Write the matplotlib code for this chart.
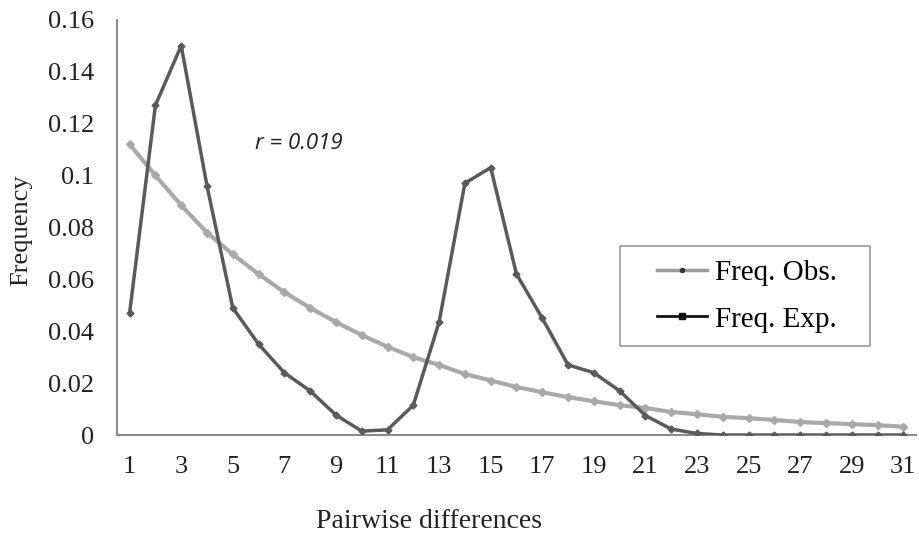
import matplotlib
matplotlib.use("Agg")
import matplotlib.pyplot as plt
from matplotlib.lines import Line2D
from matplotlib.patches import Rectangle

x_vals = list(range(1, 32))
x_tick_labels = [str(i) for i in range(1, 32, 2)]
y_ticks = [0, 0.02, 0.04, 0.06, 0.08, 0.1, 0.12, 0.14, 0.16]
y_tick_labels = ["0", "0.02", "0.04", "0.06", "0.08", "0.1", "0.12", "0.14", "0.16"]

# light grey curve (legend: Freq. Obs.)
freq_grey = [0.112, 0.100, 0.0885, 0.078, 0.0696, 0.062, 0.055, 0.049, 0.0435, 0.0385,
             0.034, 0.030, 0.027, 0.0235, 0.021, 0.0185, 0.0165, 0.0146, 0.013, 0.0115,
             0.0104, 0.0089, 0.008, 0.007, 0.0065, 0.0058, 0.005, 0.0046, 0.0042, 0.0038,
             0.0032]
# dark curve (legend: Freq. Exp.)
freq_dark = [0.047, 0.127, 0.150, 0.096, 0.049, 0.035, 0.024, 0.017, 0.0077, 0.0015,
             0.002, 0.0115, 0.0435, 0.097, 0.103, 0.062, 0.045, 0.027, 0.024, 0.017,
             0.0075, 0.0023, 0.0006, 0, 0, 0, 0, 0, 0, 0, 0]

serif = ["Liberation Serif", "DejaVu Serif"]
W, H = 919, 538

fig = plt.figure(figsize=(9.19, 5.38), dpi=100)
ax = fig.add_axes([0.127, 0.1914, 0.870, 0.772])

grey = "#a9a9a9"
dark = "#5a5a5a"
ax.plot(x_vals, freq_grey, color=grey, lw=3, marker="D", ms=4.5, mfc=grey, mec=grey, zorder=2)
ax.plot(x_vals, freq_dark, color=dark, lw=2.5, marker="D", ms=3.5, mfc=dark, mec=dark, zorder=3)

ax.set_xlim(0.5, 31.5)
ax.set_ylim(0, 0.16)
ax.set_xticks(list(range(1, 32, 2)))
ax.set_xticklabels(x_tick_labels, family=serif, fontsize=19, color="#222222")
ax.set_yticks(y_ticks)
ax.set_yticklabels(y_tick_labels, family=serif, fontsize=19, color="#222222")
ax.tick_params(axis="both", length=0)
ax.tick_params(axis="x", pad=15)
ax.tick_params(axis="y", pad=16)

for s in ["top", "right"]:
    ax.spines[s].set_visible(False)
for s in ["left", "bottom"]:
    ax.spines[s].set_color("#8a8a8a")
    ax.spines[s].set_linewidth(1.5)

ax.set_xlabel("Pairwise differences", family=serif, fontsize=20, color="#222222")
ax.xaxis.set_label_coords(0.39, -0.208)
ax.xaxis.label.set_va("center")
ax.set_ylabel("Frequency", family=serif, fontsize=19, color="#222222")
ax.yaxis.set_label_coords(-0.120, 0.494)
ax.yaxis.label.set_va("center")

ax.text(5.88, 0.1123, "r = 0.019", fontsize=16, style="italic",
        family=["Open Sans", "DejaVu Sans"], color="#222222", va="center")

handles = [
    Line2D([0], [0], color="#9a9a9a", lw=2.5, marker="o", ms=3, mfc="#333333", mec="#333333"),
    Line2D([0], [0], color="#111111", lw=2, marker="s", ms=5, mfc="#111111", mec="#111111"),
]
fig.patches.append(Rectangle((620 / W, 1 - 346 / H), 250 / W, 100 / H,
                             transform=fig.transFigure, fill=False,
                             edgecolor="#999999", lw=1.2))
leg = ax.legend(handles, ["Freq. Obs.", "Freq. Exp."], loc="center left",
                bbox_to_anchor=(657 / W, 1 - 296 / H), bbox_transform=fig.transFigure,
                prop={"family": serif, "size": 21}, frameon=False,
                handlelength=1.7, borderpad=0.0, borderaxespad=0.0,
                labelspacing=0.7, handletextpad=0.3)

fig.savefig("out.png", dpi=100)
